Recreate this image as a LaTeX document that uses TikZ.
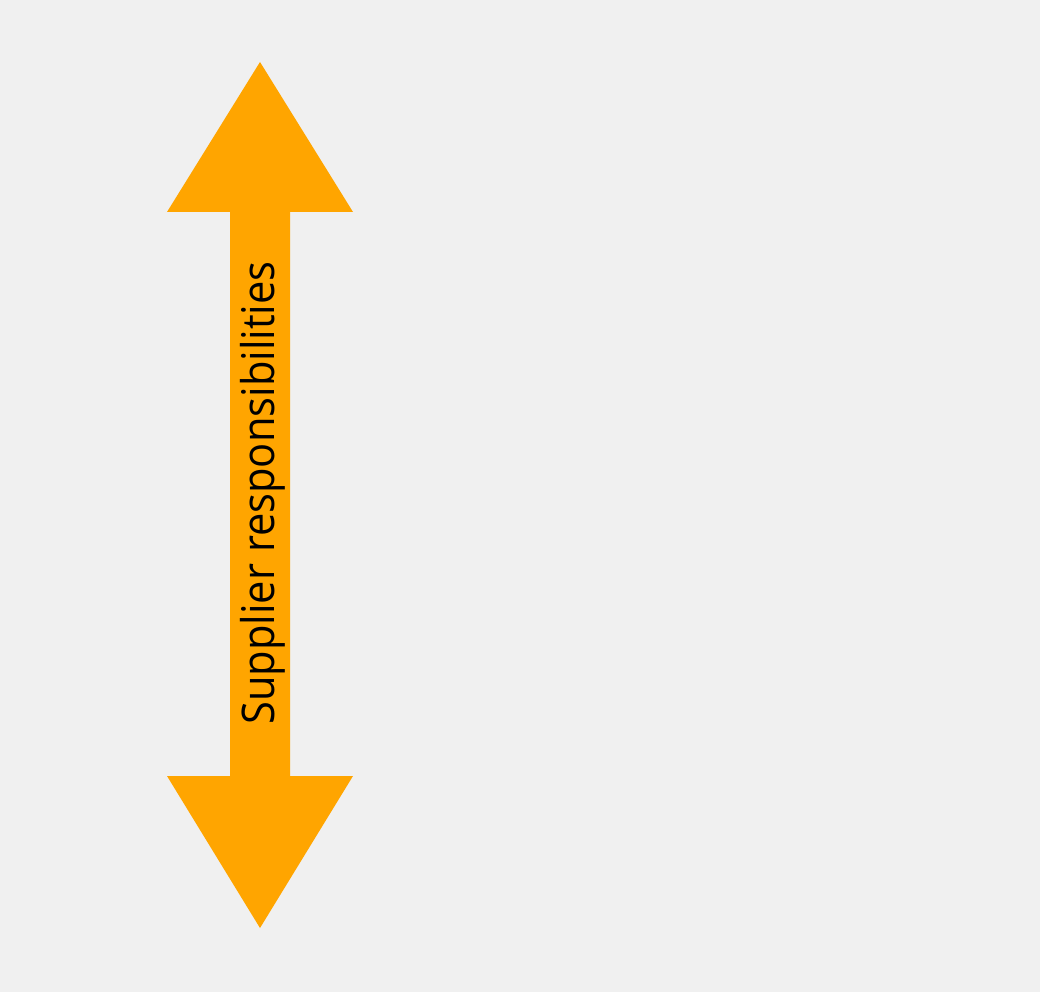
\documentclass[tikz,border=0pt]{standalone}
\usepackage{fontspec}
\setmainfont[FakeStretch=0.925]{Open Sans}
\definecolor{bg}{HTML}{F0F0F0}
\definecolor{arroworange}{HTML}{FFA500}
\begin{document}
\begin{tikzpicture}[x=1pt,y=-1pt,
  arrowshape/.style={fill=arroworange,draw=none},
  labeltext/.style={rotate=90,anchor=base,inner sep=0pt,font=\fontsize{45}{54}\selectfont,text=black}]
\fill[bg] (0,0) rectangle (1040,992);
\useasboundingbox (0,0) rectangle (1040,992);
\fill[arrowshape] (260,62) -- (353,212) -- (290,212) -- (290,776) -- (353,776) -- (260,928)
  -- (167,776) -- (230,776) -- (230,212) -- (167,212) -- cycle;
\node[labeltext] (lbl) at (274,493) {Supplier responsibilities};
\end{tikzpicture}
\end{document}
